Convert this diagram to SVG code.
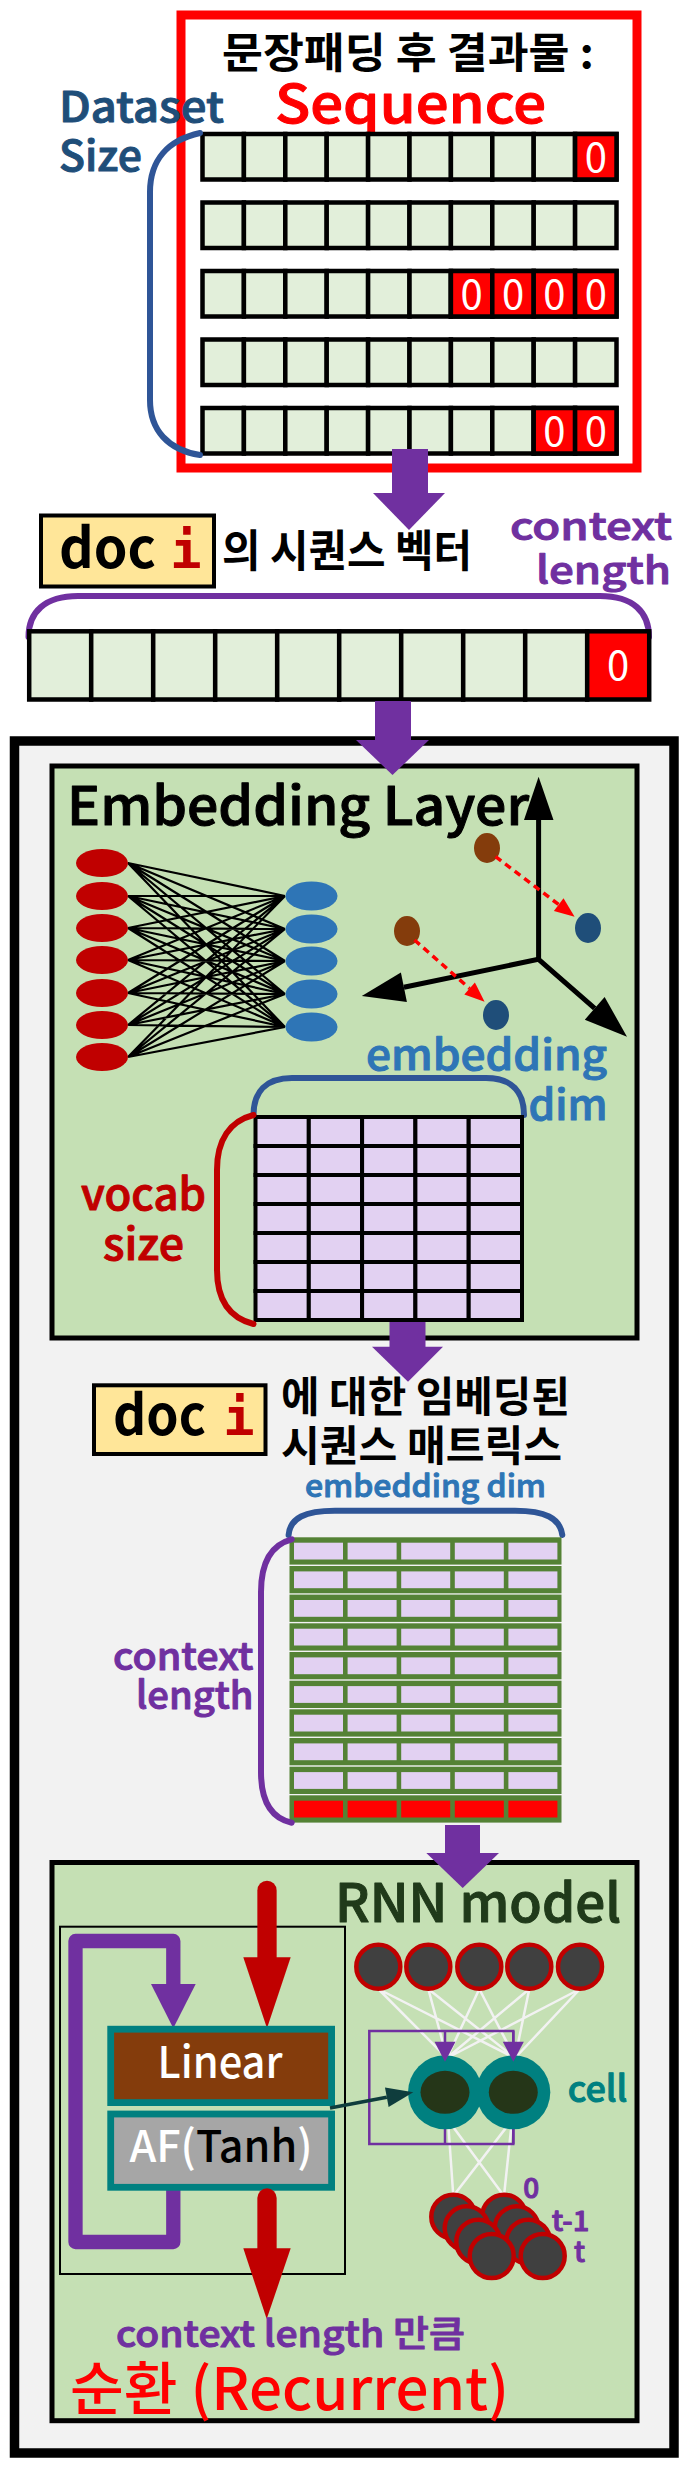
<svg xmlns="http://www.w3.org/2000/svg" width="688" height="2470" viewBox="0 0 688 2470">
<style>
text{font-family:'Noto Sans CJK KR','Noto Sans',sans-serif;font-weight:500}
.m{stroke-width:1;stroke-linejoin:round}
.cell{fill:#E2EFDA;stroke:#000;stroke-width:4.5}
.rc{fill:#FF0000;stroke:#000;stroke-width:4.5}
.zero{font-size:40px;fill:#fff;text-anchor:middle;font-weight:400}
.mc{fill:#E2D1F2;stroke:#000;stroke-width:4}
.grow{fill:#548235}
.lav{fill:#E2D1F2}
.red2{fill:#FF0000}
.parrow{fill:#7030A0}
.ko{font-weight:bold;fill:#000}
.doc{font-size:55px;font-weight:bold;fill:#000}
.di{font-family:'DejaVu Sans Mono',monospace;font-size:52px;font-weight:bold;fill:#C00000;text-anchor:middle}
.docbox{fill:#FFE699;stroke:#000;stroke-width:4}
.purp{fill:#7030A0;stroke:#7030A0}
.bl{fill:#2E75B6;stroke:#2E75B6}
.brk{fill:none;stroke-width:6;stroke-linecap:round}
.node{fill:#404040;stroke:#C00000;stroke-width:4.5}
.wl{stroke:#F2F2F2;stroke-width:2.5;fill:none}
</style>
<defs>
<g id="seqrow">
<rect class="cell" x="202.5" y="0" width="41.4" height="45.5"/><rect class="cell" x="243.9" y="0" width="41.4" height="45.5"/><rect class="cell" x="285.3" y="0" width="41.4" height="45.5"/><rect class="cell" x="326.7" y="0" width="41.4" height="45.5"/><rect class="cell" x="368.1" y="0" width="41.4" height="45.5"/><rect class="cell" x="409.5" y="0" width="41.4" height="45.5"/><rect class="cell" x="450.9" y="0" width="41.4" height="45.5"/><rect class="cell" x="492.3" y="0" width="41.4" height="45.5"/><rect class="cell" x="533.7" y="0" width="41.4" height="45.5"/><rect class="cell" x="575.1" y="0" width="41.4" height="45.5"/>
</g>
<g id="mrow">
<rect class="mc" x="255.5" y="0" width="53.3" height="29"/><rect class="mc" x="308.8" y="0" width="53.3" height="29"/><rect class="mc" x="362.1" y="0" width="53.3" height="29"/><rect class="mc" x="415.4" y="0" width="53.3" height="29"/><rect class="mc" x="468.7" y="0" width="53.3" height="29"/>
</g>
<g id="erow">
<rect class="grow" x="289.5" y="0" width="272" height="27.3"/>
<rect class="lav" x="294" y="5.4" width="49" height="16.8"/><rect class="lav" x="347.6" y="5.4" width="49" height="16.8"/><rect class="lav" x="401.2" y="5.4" width="49" height="16.8"/><rect class="lav" x="454.8" y="5.4" width="49" height="16.8"/><rect class="lav" x="508.4" y="5.4" width="49" height="16.8"/>
</g>
</defs>

<g id="padded-sequences">
<rect x="181" y="15" width="456" height="453" fill="#fff" stroke="#FF0000" stroke-width="9"/>
<text class="ko" x="222" y="68" font-size="42" textLength="372" lengthAdjust="spacingAndGlyphs">문장패딩 후 결과물 :</text>
<text class="m" x="275" y="123" font-size="53" fill="#FF0000" stroke="#FF0000" textLength="271" lengthAdjust="spacingAndGlyphs">Sequence</text>
<text class="m" x="59" y="122" font-size="42" fill="#1F4E79" stroke="#1F4E79" textLength="165" lengthAdjust="spacingAndGlyphs">Dataset</text>
<text class="m" x="59" y="171" font-size="42" fill="#1F4E79" stroke="#1F4E79" textLength="83" lengthAdjust="spacingAndGlyphs">Size</text>
<use href="#seqrow" y="134"/>
<use href="#seqrow" y="202.5"/>
<use href="#seqrow" y="271"/>
<use href="#seqrow" y="339.5"/>
<use href="#seqrow" y="408"/>
<rect class="rc" x="575.1" y="134" width="41.4" height="45.5"/>
<rect class="rc" x="450.9" y="271" width="41.4" height="45.5"/><rect class="rc" x="492.3" y="271" width="41.4" height="45.5"/><rect class="rc" x="533.7" y="271" width="41.4" height="45.5"/><rect class="rc" x="575.1" y="271" width="41.4" height="45.5"/>
<rect class="rc" x="533.7" y="408" width="41.4" height="45.5"/><rect class="rc" x="575.1" y="408" width="41.4" height="45.5"/>
<text class="zero" x="595.8" y="171.5">0</text>
<text class="zero" x="471.6" y="308.5">0</text><text class="zero" x="513" y="308.5">0</text><text class="zero" x="554.4" y="308.5">0</text><text class="zero" x="595.8" y="308.5">0</text>
<text class="zero" x="554.4" y="445.5">0</text><text class="zero" x="595.8" y="445.5">0</text>
<path class="brk" stroke="#2F5597" d="M200,133 C168,140 150,160 150,192 L150,400 C150,430 168,450 200,455"/>
</g>

<g id="doc-vector">
<rect class="docbox" x="41" y="515.5" width="173" height="71"/>
<text class="doc" x="59" y="568" textLength="97" lengthAdjust="spacingAndGlyphs">doc</text>
<text class="di" x="186" y="568">i</text>
<text class="ko" x="222" y="566.5" font-size="44" textLength="250" lengthAdjust="spacingAndGlyphs">의 시퀀스 벡터</text>
<text class="purp m" x="510" y="540" font-size="38" textLength="162" lengthAdjust="spacingAndGlyphs">context</text>
<text class="purp m" x="536" y="584" font-size="38" textLength="135" lengthAdjust="spacingAndGlyphs">length</text>
<path class="brk" stroke="#7030A0" d="M28.5,637 C28.5,612 45,596 78,596 L600,596 C633,596 649,612 649,637"/>
<rect class="cell" x="29.2" y="631.3" width="62" height="68.2"/><rect class="cell" x="91.2" y="631.3" width="62" height="68.2"/><rect class="cell" x="153.2" y="631.3" width="62" height="68.2"/><rect class="cell" x="215.2" y="631.3" width="62" height="68.2"/><rect class="cell" x="277.2" y="631.3" width="62" height="68.2"/><rect class="cell" x="339.2" y="631.3" width="62" height="68.2"/><rect class="cell" x="401.2" y="631.3" width="62" height="68.2"/><rect class="cell" x="463.2" y="631.3" width="62" height="68.2"/><rect class="cell" x="525.2" y="631.3" width="62" height="68.2"/><rect class="rc" x="587.2" y="631.3" width="62" height="68.2"/>
<text class="zero" x="618.2" y="680">0</text>
</g>

<g id="model-frame">
<rect x="14.5" y="741" width="659.5" height="1712" fill="#F2F2F2" stroke="#000" stroke-width="9.5"/>
</g>

<g id="embedding-layer">
<rect x="52" y="766" width="585" height="572" fill="#C5E0B4" stroke="#000" stroke-width="5"/>
<text class="m" x="67" y="825" font-size="53" fill="#000" stroke="#000" stroke-width="1.3" textLength="462" lengthAdjust="spacingAndGlyphs">Embedding Layer</text>
<path stroke="#000" stroke-width="2.2" fill="none" d="M128,863 L285,896 M128,863 L285,929 M128,863 L285,961 M128,863 L285,994 M128,863 L285,1027 M128,896 L285,896 M128,896 L285,929 M128,896 L285,961 M128,896 L285,994 M128,896 L285,1027 M128,928 L285,896 M128,928 L285,929 M128,928 L285,961 M128,928 L285,994 M128,928 L285,1027 M128,960 L285,896 M128,960 L285,929 M128,960 L285,961 M128,960 L285,994 M128,960 L285,1027 M128,993 L285,896 M128,993 L285,929 M128,993 L285,961 M128,993 L285,994 M128,993 L285,1027 M128,1025 L285,896 M128,1025 L285,929 M128,1025 L285,961 M128,1025 L285,994 M128,1025 L285,1027 M128,1057 L285,896 M128,1057 L285,929 M128,1057 L285,961 M128,1057 L285,994 M128,1057 L285,1027"/>
<g fill="#C00000">
<ellipse cx="102" cy="863" rx="26" ry="14"/><ellipse cx="102" cy="896" rx="26" ry="14"/><ellipse cx="102" cy="928" rx="26" ry="14"/><ellipse cx="102" cy="960" rx="26" ry="14"/><ellipse cx="102" cy="993" rx="26" ry="14"/><ellipse cx="102" cy="1025" rx="26" ry="14"/><ellipse cx="102" cy="1057" rx="26" ry="14"/>
</g>
<g fill="#2E75B6">
<ellipse cx="311.5" cy="896" rx="26" ry="14.5"/><ellipse cx="311.5" cy="929" rx="26" ry="14.5"/><ellipse cx="311.5" cy="961" rx="26" ry="14.5"/><ellipse cx="311.5" cy="994" rx="26" ry="14.5"/><ellipse cx="311.5" cy="1027" rx="26" ry="14.5"/>
</g>
<g id="axes" stroke="#000" stroke-width="5" fill="#000">
<path fill="none" d="M538.6,820 L538.6,959.3 L403.9,987.3 M538.6,959.3 L594.7,1008.4"/>
<polygon stroke="none" points="524,820 553.5,820 538.6,776.7"/>
<polygon stroke="none" points="406.9,1002 400.9,972.6 361.8,996"/>
<polygon stroke="none" points="584.8,1019.7 604.6,997.1 627,1036.7"/>
</g>
<ellipse cx="487" cy="848" rx="13" ry="15" fill="#843C0C"/>
<ellipse cx="407" cy="931" rx="13" ry="15" fill="#843C0C"/>
<ellipse cx="588" cy="928" rx="13" ry="15" fill="#1F4E79"/>
<ellipse cx="496" cy="1015" rx="13" ry="15" fill="#1F4E79"/>
<path d="M495.6,856.7 L558.7,904.6 M414.5,940 L469.6,988.5" stroke="#FF0000" stroke-width="3.5" stroke-dasharray="7 5" fill="none"/>
<polygon fill="#FF0000" points="553.9,911 563.5,898.2 574.6,916.7"/>
<polygon fill="#FF0000" points="464.3,994.5 474.9,982.5 484.6,1001.7"/>
<text class="bl m" x="366" y="1070" font-size="42" textLength="241" lengthAdjust="spacingAndGlyphs">embedding</text>
<text class="bl m" x="528.5" y="1120" font-size="42" textLength="79" lengthAdjust="spacingAndGlyphs">dim</text>
<path class="brk" stroke="#2F5597" d="M253.5,1115 C253.5,1092 266,1078 292,1078 L486,1078 C512,1078 524,1092 524,1115"/>
<use href="#mrow" y="1117"/><use href="#mrow" y="1146"/><use href="#mrow" y="1175"/><use href="#mrow" y="1204"/><use href="#mrow" y="1233"/><use href="#mrow" y="1262"/><use href="#mrow" y="1291"/>
<path class="brk" stroke="#C00000" d="M253.5,1115 C230,1121 217,1140 217,1170 L217,1270 C217,1300 230,1318 253.5,1324"/>
<text class="m" x="81" y="1210" font-size="44" fill="#C00000" stroke="#C00000" textLength="125" lengthAdjust="spacingAndGlyphs">vocab</text>
<text class="m" x="103" y="1260" font-size="44" fill="#C00000" stroke="#C00000" textLength="81" lengthAdjust="spacingAndGlyphs">size</text>
</g>

<g id="embedded-matrix">
<rect class="docbox" x="94" y="1385.3" width="171.5" height="68.7"/>
<text class="doc" x="113" y="1435" textLength="93" lengthAdjust="spacingAndGlyphs">doc</text>
<text class="di" x="239" y="1435">i</text>
<text class="ko" x="281" y="1411.5" font-size="42" textLength="289" lengthAdjust="spacingAndGlyphs">에 대한 임베딩된</text>
<text class="ko" x="281" y="1461" font-size="42" textLength="281" lengthAdjust="spacingAndGlyphs">시퀀스 매트릭스</text>
<text class="bl m" x="305" y="1496.7" font-size="31" stroke-width="0.6" textLength="241" lengthAdjust="spacingAndGlyphs">embedding dim</text>
<path class="brk" stroke="#2F5597" d="M288.6,1535 C290,1518 305,1510.7 335,1510.7 L515,1510.7 C545,1510.7 560,1518 562.3,1535"/>
<use href="#erow" y="1537.3"/><use href="#erow" y="1566"/><use href="#erow" y="1594.6"/><use href="#erow" y="1623.3"/><use href="#erow" y="1652"/><use href="#erow" y="1680.7"/><use href="#erow" y="1709.3"/><use href="#erow" y="1738"/><use href="#erow" y="1766.7"/>
<rect class="grow" x="289.5" y="1795.3" width="272" height="27.3"/>
<rect class="red2" x="294" y="1800.7" width="49" height="16.8"/><rect class="red2" x="347.6" y="1800.7" width="49" height="16.8"/><rect class="red2" x="401.2" y="1800.7" width="49" height="16.8"/><rect class="red2" x="454.8" y="1800.7" width="49" height="16.8"/><rect class="red2" x="508.4" y="1800.7" width="49" height="16.8"/>
<path class="brk" stroke="#7030A0" d="M291.7,1539.3 C270,1545 261,1565 261,1592 L261,1772 C261,1800 270,1818 291.7,1822.7"/>
<text class="purp m" x="113" y="1670" font-size="38" textLength="140.5" lengthAdjust="spacingAndGlyphs">context</text>
<text class="purp m" x="136" y="1709" font-size="38" textLength="117.5" lengthAdjust="spacingAndGlyphs">length</text>
</g>

<g id="rnn-model">
<rect x="52" y="1862.5" width="585" height="558.2" fill="#C5E0B4" stroke="#000" stroke-width="5"/>
<text class="m" x="335" y="1921.5" font-size="53" fill="#203A1A" stroke="#203A1A" stroke-width="1.6" textLength="286" lengthAdjust="spacingAndGlyphs">RNN model</text>
<rect x="60" y="1926.7" width="285" height="347.3" fill="none" stroke="#000" stroke-width="2"/>
<path d="M173.3,2189 L173.3,2242 L75.5,2242 L75.5,1941 L173.3,1941 L173.3,1987" fill="none" stroke="#7030A0" stroke-width="14.3" stroke-linejoin="round" stroke-linecap="round"/>
<polygon class="parrow" points="151,1984 195.7,1984 173.3,2028.3"/>
<line x1="267" y1="1890.4" x2="267" y2="1960" stroke="#C00000" stroke-width="19.3" stroke-linecap="round"/>
<polygon fill="#C00000" points="243.3,1957.3 290.7,1957.3 267,2028.3"/>
<g id="linear">
<rect x="110.7" y="2029.2" width="220.9" height="73.4" fill="#843C0C" stroke="#008080" stroke-width="6.8"/>
<text x="220" y="2078.3" font-size="44" font-weight="bold" fill="#fff" text-anchor="middle" textLength="125" lengthAdjust="spacingAndGlyphs">Linear</text>
</g>
<g id="af">
<rect x="110.7" y="2114" width="220.9" height="73.3" fill="#A6A6A6" stroke="#008080" stroke-width="6.8"/>
<text x="221" y="2161.7" font-size="44" font-weight="bold" text-anchor="middle" textLength="183" lengthAdjust="spacingAndGlyphs"><tspan fill="#fff">AF(</tspan><tspan fill="#000">Tanh</tspan><tspan fill="#fff">)</tspan></text>
</g>
<line x1="267" y1="2198" x2="267" y2="2251" stroke="#C00000" stroke-width="19.3" stroke-linecap="round"/>
<polygon fill="#C00000" points="243.3,2248.3 290.7,2248.3 266.7,2319"/>
<g id="net-lines">
<path class="wl" d="M378.3,1989 L447,2058 M378.3,1989 L515,2058 M428.3,1989 L447,2058 M428.3,1989 L515,2058 M479.3,1989 L447,2058 M479.3,1989 L515,2058 M529.3,1989 L447,2058 M529.3,1989 L515,2058 M580,1989 L447,2058 M580,1989 L515,2058 M448,2120 L453.3,2196 M448,2120 L504,2196 M512,2120 L504,2196 M512,2120 L453.3,2196"/>
</g>
<rect x="369.3" y="2031" width="144" height="113" fill="none" stroke="#7030A0" stroke-width="2.5"/>
<path d="M445,2092 L445,2144 M513.3,2092 L513.3,2144" stroke="#7030A0" stroke-width="2.5"/>
<g id="top-nodes">
<circle class="node" cx="378.3" cy="1966.7" r="22"/><circle class="node" cx="428.3" cy="1966.7" r="22"/><circle class="node" cx="479.3" cy="1966.7" r="22"/><circle class="node" cx="529.3" cy="1966.7" r="22"/><circle class="node" cx="580" cy="1966.7" r="22"/>
</g>
<g id="cells">
<circle cx="445" cy="2092.3" r="37" fill="#008080"/><circle cx="513.3" cy="2092.3" r="37" fill="#008080"/>
<ellipse cx="445" cy="2092.3" rx="24.5" ry="21.5" fill="#253618"/><ellipse cx="513.3" cy="2092.3" rx="24.5" ry="21.5" fill="#253618"/>
</g>
<path d="M445,2031 L445,2043 M513.3,2031 L513.3,2043" stroke="#7030A0" stroke-width="2.5"/>
<polygon class="parrow" points="434.5,2041.7 455.5,2041.7 445,2061.7"/>
<polygon class="parrow" points="502.8,2041.7 523.8,2041.7 513.3,2061.7"/>
<line x1="330" y1="2108" x2="386.8" y2="2097.3" stroke="#0F3D3D" stroke-width="3.5"/>
<polygon fill="#0F3D3D" points="388.6,2107.1 385,2087.5 413.3,2092.3"/>
<text class="m" x="567.7" y="2101.7" font-size="36" fill="#008080" stroke="#008080" textLength="59.6" lengthAdjust="spacingAndGlyphs">cell</text>
<g id="time-nodes">
<circle class="node" cx="453.3" cy="2216.7" r="22"/><circle class="node" cx="504" cy="2216.7" r="22"/>
<circle class="node" cx="466.7" cy="2228.3" r="22"/><circle class="node" cx="516.7" cy="2228.3" r="22"/>
<circle class="node" cx="478.3" cy="2241.7" r="22"/><circle class="node" cx="528.3" cy="2241.7" r="22"/>
<circle class="node" cx="491.7" cy="2256" r="22"/><circle class="node" cx="542.7" cy="2256" r="22"/>
</g>
<text class="purp m" x="523.3" y="2198.3" font-size="28">0</text>
<text class="purp m" x="551.7" y="2230.7" font-size="28" textLength="37.6" lengthAdjust="spacingAndGlyphs">t-1</text>
<text class="purp m" x="574" y="2261.7" font-size="28">t</text>
<text class="purp m" x="116" y="2347.3" font-size="36" textLength="349" lengthAdjust="spacingAndGlyphs">context length 만큼</text>
<text x="70" y="2410" font-size="58" font-weight="bold" fill="#FF0000" textLength="439" lengthAdjust="spacingAndGlyphs">순환 (Recurrent)</text>
</g>

<g id="connectors">
<rect class="parrow" x="392" y="449" width="36" height="45"/>
<polygon class="parrow" points="373,493 445,493 409,530"/>
<rect class="parrow" x="375" y="701" width="36" height="40"/>
<polygon class="parrow" points="356,740 429,740 392.5,775"/>
<rect class="parrow" x="389.5" y="1322" width="36" height="25.5"/>
<polygon class="parrow" points="372,1346.7 443,1346.7 408,1381.7"/>
<rect class="parrow" x="445" y="1825" width="35" height="29"/>
<polygon class="parrow" points="426.3,1853 499,1853 462.7,1888"/>
</g>
</svg>
